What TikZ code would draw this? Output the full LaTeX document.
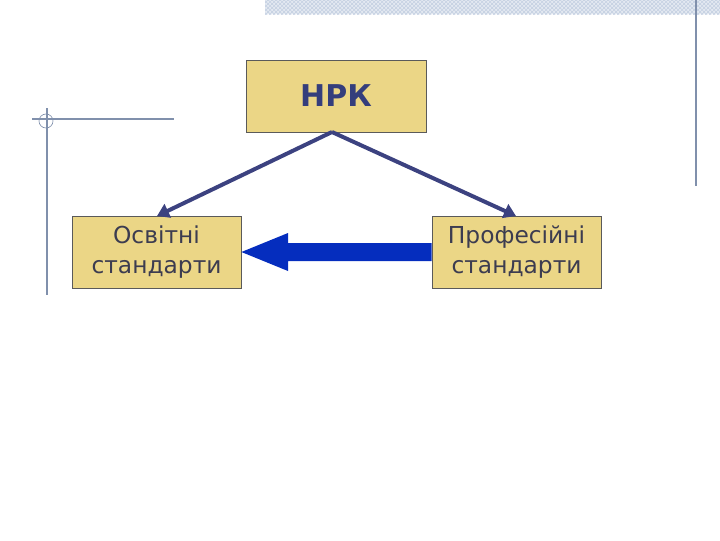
\documentclass[tikz,border=0pt]{standalone}
\usepackage{fontspec}
\setmainfont{DejaVu Sans}
\usetikzlibrary{arrows.meta,patterns}
\definecolor{boxfill}{RGB}{235,214,134}
\definecolor{boxline}{RGB}{90,90,90}
\definecolor{darkarrow}{RGB}{60,66,128}
\definecolor{bigarrow}{RGB}{5,45,190}
\definecolor{titletext}{RGB}{52,62,124}
\definecolor{bodytext}{RGB}{60,60,80}
\definecolor{deco}{RGB}{128,144,172}
\definecolor{band}{RGB}{196,208,226}
\tikzset{
  box/.style={draw=boxline, line width=0.6pt, fill=boxfill, minimum width=169*0.75pt, minimum height=72*0.75pt, inner sep=0pt, align=center},
  bodybox/.style={box, text=bodytext, font=\fontsize{17.5}{22}\selectfont},
  thinarrow/.style={draw=darkarrow, line width=3pt, -{Triangle[length=9pt,width=11pt]}},
  decoline/.style={draw=deco, line width=0.8pt}
}
\begin{document}
\begin{tikzpicture}[x=0.75pt,y=-0.75pt]
\useasboundingbox (0,0) rectangle (720,540);
% decorations
\fill[band!45] (265,0) rectangle (720,14);
\fill[pattern=crosshatch, pattern color=band] (265,0) rectangle (720,14);
\draw[decoline] (696,0) -- (696,186);
\draw[decoline] (32,119) -- (174,119);
\draw[decoline] (47,108) -- (47,295);
\draw[decoline, line width=0.5pt] (46,121) circle (7);
% nodes
\node[box, minimum width=180*0.75pt, text=titletext, font=\fontsize{22.5}{26}\selectfont\bfseries] (nrk) at (336,96) {НРК};
\node[bodybox] (osv) at (156.5,252) {Освітні\\стандарти};
\node[bodybox] (prof) at (516.5,252) {Професійні\\стандарти};
\coordinate (apex) at (332,132);
\coordinate (tl) at (157,216);
\coordinate (tr) at (516,216);
\draw[thinarrow] (apex) -- (tl);
\draw[thinarrow] (apex) -- (tr);
% big arrow
\fill[bigarrow] (prof.west |- 0,243) -- (288,243) -- (288,233) -- (osv.east) -- (288,271) -- (288,261) -- (prof.west |- 0,261) -- cycle;
\end{tikzpicture}
\end{document}
